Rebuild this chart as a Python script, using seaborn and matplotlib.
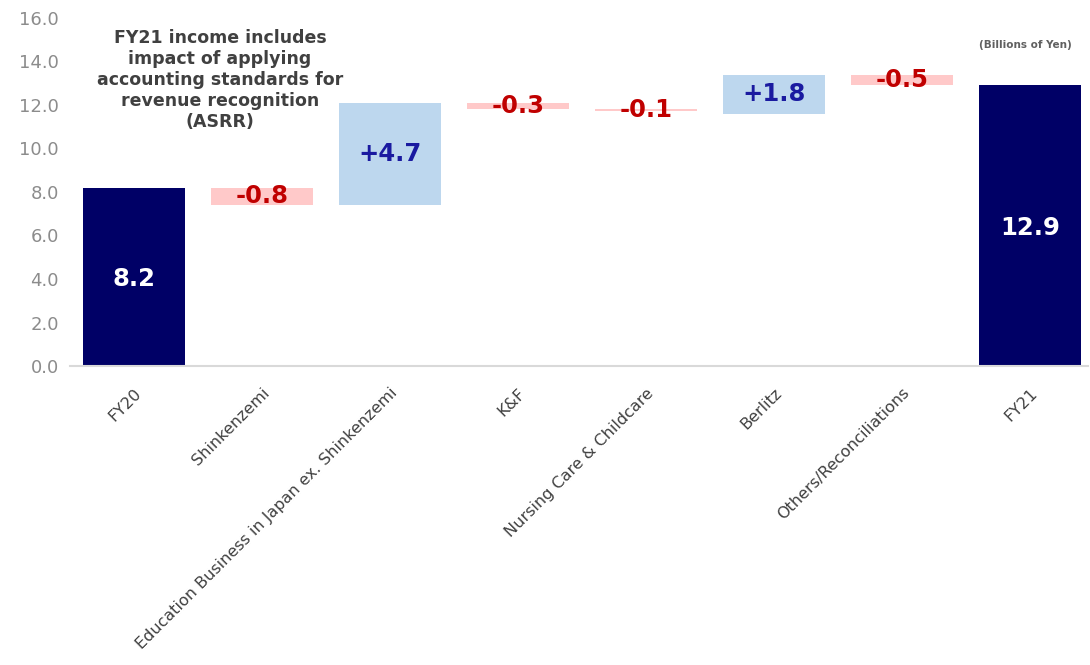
import matplotlib
matplotlib.use("Agg")
import matplotlib.pyplot as plt
import seaborn as sns
import pandas as pd

categories = ["FY20", "Shinkenzemi", "Education Business in Japan ex. Shinkenzemi",
              "K&F", "Nursing Care & Childcare", "Berlitz",
              "Others/Reconciliations", "FY21"]
bar_bottoms = [0.0, 7.4, 7.4, 11.8, 11.7, 11.6, 12.9, 0.0]
bar_heights = [8.2, 0.8, 4.7, 0.3, 0.1, 1.8, 0.5, 12.9]
value_labels = ["8.2", "-0.8", "+4.7", "-0.3", "-0.1", "+1.8", "-0.5", "12.9"]
kinds = ["total", "neg", "pos", "neg", "neg", "pos", "neg", "total"]
y_ticks = [0, 2, 4, 6, 8, 10, 12, 14, 16]

fill = {"total": "#000066", "pos": "#bdd7ee", "neg": "#ffc9c9"}
text_col = {"total": "white", "pos": "#1a1aa0", "neg": "#c00000"}

sns.set_theme(style="white")
plt.rcParams["font.family"] = ["DejaVu Sans"]

fig = plt.figure(figsize=(10.9, 6.65), dpi=100)
ax = fig.add_axes([0.064, 0.4496, 0.934, 0.5234])

df = pd.DataFrame({"cat": categories, "h": bar_heights})
sns.barplot(data=df, x="cat", y="h", order=categories, bottom=bar_bottoms,
            width=0.8, color="#000066", ax=ax, errorbar=None, saturation=1)

for p, k in zip(ax.patches, kinds):
    p.set_facecolor(fill[k])
    p.set_edgecolor("none")

for i, (b, h, lab, k) in enumerate(zip(bar_bottoms, bar_heights, value_labels, kinds)):
    yc = b + h / 2
    if k == "total":
        yc = b + h / 2 - 0.1
    ax.text(i, yc, lab, ha="center", va="center", color=text_col[k],
            fontsize=17.5, fontweight="bold")

ax.set_ylim(0, 16)
ax.set_xlim(-0.5, 7.45)
ax.set_yticks(y_ticks)
ax.set_yticklabels([f"{v:.1f}" for v in y_ticks], color="#8c8c8c", fontsize=13)
ax.set_xticks(range(len(categories)))
ax.set_xticklabels(categories, rotation=45, ha="right", rotation_mode="anchor",
                   color="#404040", fontsize=11.5)
ax.tick_params(axis="x", length=0, pad=14)
ax.tick_params(axis="y", length=0, pad=8)
ax.set_xlabel("")
ax.set_ylabel("")
for s in ["top", "right", "left"]:
    ax.spines[s].set_visible(False)
ax.spines["bottom"].set_color("#d9d9d9")
ax.spines["bottom"].set_linewidth(1.5)

fig.text(220 / 1090, 1 - 80 / 665,
         "FY21 income includes\nimpact of applying\naccounting standards for\nrevenue recognition\n(ASRR)",
         ha="center", va="center", fontsize=12.5, fontweight="bold", color="#404040",
         linespacing=1.2)
fig.text(1025 / 1090, 1 - 45 / 665, "(Billions of Yen)", ha="center", va="center",
         fontsize=7.5, fontweight="bold", color="#606060")

fig.savefig("out.png", dpi=100)
